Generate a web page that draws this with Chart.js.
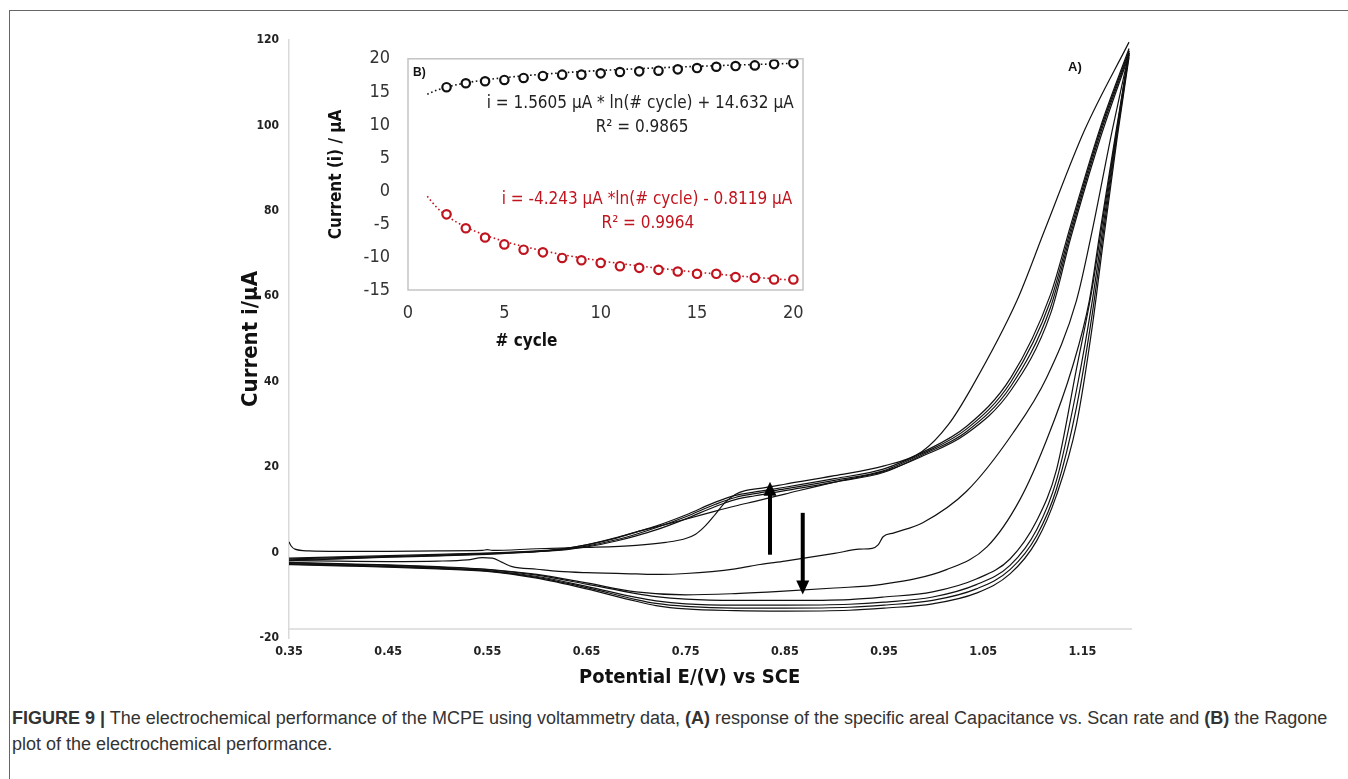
<!DOCTYPE html>
<html>
<head>
<meta charset="utf-8">
<script src="https://cdn.jsdelivr.net/npm/chart.js@4.4.1/dist/chart.umd.min.js"></script>
<style>
html, body { margin: 0; padding: 0; background: #fff; }
body { width: 1348px; height: 779px; position: relative; overflow: hidden; }
#frame { position: absolute; left: 9px; top: 10px; width: 1345px; height: 775px;
  border-top: 1.5px solid #666; border-left: 1.5px solid #666; }
#main { position: absolute; left: 0; top: 0; }
#inset { position: absolute; left: 300px; top: 30px; }
#caption { position: absolute; left: 12px; top: 705px; font: 18px 'Liberation Sans', Arial, sans-serif;
  color: #333; white-space: nowrap; line-height: 26px; }
</style>
</head>
<body>
<div id="frame"></div>
<canvas id="main" width="1348" height="700"></canvas>
<canvas id="inset" width="520" height="340"></canvas>
<div id="caption"><b>FIGURE 9 |</b> The electrochemical performance of the MCPE using voltammetry data, <b>(A)</b> response of the specific areal Capacitance vs. Scan rate and <b>(B)</b> the Ragone<br>plot of the electrochemical performance.</div>

<script>
// ---- (A) cyclic voltammograms: potential (V vs SCE) / current (uA) ----
var cycleA_E = [0.35, 0.352, 0.356, 0.37, 0.40, 0.45, 0.50, 0.545, 0.55, 0.555, 0.60, 0.65, 0.70, 0.73, 0.75, 0.76, 0.77, 0.78, 0.79, 0.80, 0.81, 0.83, 0.85, 0.90, 0.95, 0.988, 1.015, 1.038, 1.084, 1.112, 1.152, 1.197];
var cycleA_I = [2.5, 1.6, 0.8, 0.4, 0.3, 0.3, 0.4, 0.5, 0.7, 0.5, 0.9, 1.2, 1.7, 2.4, 3.3, 4.3, 6.3, 9.0, 11.8, 13.6, 14.5, 15.2, 16.0, 18.0, 20.3, 23.6, 30.0, 38.5, 59.0, 75.5, 98.8, 119.5];

var fwd_E = [0.35, 0.40, 0.45, 0.50, 0.55, 0.60, 0.63, 0.65, 0.68, 0.70, 0.72, 0.75, 0.78, 0.80, 0.82, 0.85, 0.90, 0.95, 0.988, 1.033, 1.078, 1.118, 1.138, 1.168, 1.197];
var fwd1_I = [-1.3, -1.0, -0.7, -0.4, -0.1, 0.4, 1.0, 1.8, 3.4, 4.8, 6.2, 8.8, 11.8, 13.4, 14.2, 15.3, 17.3, 19.6, 23.4, 29.5, 41.0, 60.5, 76.5, 99.5, 118.0];
var fwd2_I = [-1.5, -1.2, -0.9, -0.6, -0.2, 0.3, 0.8, 1.5, 3.0, 4.3, 5.8, 8.4, 11.3, 12.9, 13.8, 14.9, 16.9, 19.2, 23.1, 28.9, 40.0, 59.0, 75.5, 98.8, 117.5];
var fwd3_I = [-1.7, -1.4, -1.0, -0.7, -0.3, 0.2, 0.7, 1.3, 2.7, 3.9, 5.3, 7.9, 10.8, 12.4, 13.3, 14.5, 16.5, 18.8, 22.8, 28.3, 39.0, 57.5, 74.5, 98.0, 117.0];
var fwd4_I = [-1.9, -1.5, -1.1, -0.8, -0.4, 0.2, 1.0, 1.8, 3.5, 4.8, 6.0, 7.8, 9.7, 10.9, 12.0, 13.7, 16.5, 19.0, 22.5, 27.8, 38.0, 56.0, 73.5, 97.0, 116.5];

var cycleB_E = [0.35, 0.40, 0.45, 0.50, 0.53, 0.545, 0.555, 0.565, 0.575, 0.60, 0.622, 0.65, 0.70, 0.724, 0.75, 0.80, 0.825, 0.85, 0.90, 0.925, 0.938, 0.944, 0.949, 0.96, 0.989, 1.033, 1.080, 1.114, 1.144, 1.160, 1.180, 1.197];
var cycleB_I = [-1.9, -2.0, -2.1, -2.0, -1.7, -1.2, -1.3, -2.3, -3.3, -3.9, -4.4, -4.7, -5.0, -5.1, -4.9, -3.8, -2.8, -2.0, -0.2, 0.8, 1.0, 1.8, 3.7, 4.6, 7.0, 14.3, 28.0, 41.0, 59.0, 75.5, 98.8, 117.0];

var cycleC_E = [0.35, 0.40, 0.45, 0.50, 0.55, 0.60, 0.65, 0.70, 0.75, 0.80, 0.845, 0.90, 0.946, 1.013, 1.054, 1.087, 1.114, 1.14, 1.157, 1.168, 1.184, 1.197];
var cycleC_I = [-2.3, -2.6, -2.9, -3.3, -3.9, -5.1, -7.1, -9.2, -9.9, -9.6, -9.1, -8.3, -7.5, -4.0, 1.4, 12.4, 26.4, 43.5, 59.0, 75.5, 98.8, 117.0];

var rev_E = [0.35, 0.40, 0.45, 0.50, 0.55, 0.60, 0.65, 0.70, 0.72, 0.75, 0.80, 0.85, 0.915, 0.95, 0.999, 1.043, 1.077, 1.104, 1.124, 1.144, 1.160, 1.170, 1.185, 1.197];
var rev1_I = [-2.4, -2.7, -3.0, -3.4, -4.0, -5.3, -7.4, -9.6, -10.3, -10.9, -11.2, -11.2, -11.0, -10.4, -9.2, -6.2, -1.5, 7.5, 19.5, 43.0, 62.0, 77.0, 99.5, 117.5];
var rev2_I = [-2.6, -2.9, -3.2, -3.6, -4.2, -5.6, -7.9, -10.5, -11.3, -12.0, -12.3, -12.3, -12.1, -11.6, -10.4, -7.5, -3.0, 5.4, 17.0, 38.0, 59.0, 75.0, 98.8, 117.0];
var rev3_I = [-2.7, -3.0, -3.3, -3.7, -4.3, -5.8, -8.2, -11.0, -11.9, -12.6, -13.0, -13.0, -12.8, -12.3, -11.2, -8.5, -4.0, 4.0, 15.0, 34.0, 56.0, 73.0, 98.0, 116.5];
var rev4_I = [-2.8, -3.1, -3.4, -3.8, -4.4, -6.0, -8.5, -11.4, -12.4, -13.2, -13.6, -13.7, -13.5, -13.0, -12.0, -9.5, -5.0, 2.8, 13.5, 30.0, 53.0, 71.0, 97.0, 116.0];

var mainETicks = [0.35, 0.45, 0.55, 0.65, 0.75, 0.85, 0.95, 1.05, 1.15];
var mainITicks = [-20, 0, 20, 40, 60, 80, 100, 120];

// arrows (potential, start current, end current)
var arrowE = [0.835, 0.868];
var arrowFrom = [-0.5, 9.3];
var arrowTo = [16.6, -9.8];

// ---- (B) peak current vs cycle ----
var cycles = [2, 3, 4, 5, 6, 7, 8, 9, 10, 11, 12, 13, 14, 15, 16, 17, 18, 19, 20];
var anodicPeak = [15.7, 16.3, 16.6, 16.8, 17.1, 17.4, 17.6, 17.6, 17.8, 18.0, 18.1, 18.2, 18.4, 18.6, 18.8, 18.9, 19.0, 19.2, 19.35];
var cathodicPeak = [-3.55, -5.65, -7.05, -8.1, -8.9, -9.3, -10.15, -10.5, -10.9, -11.4, -11.65, -11.95, -12.2, -12.55, -12.55, -13.05, -13.15, -13.4, -13.4];
var trendCycle = [1, 1.5, 2, 3, 4, 5, 6, 8, 10, 12, 14, 16, 18, 20];
var trendAnodic = [14.63, 15.26, 15.71, 16.35, 16.80, 17.14, 17.43, 17.88, 18.23, 18.51, 18.75, 18.96, 19.14, 19.31];
var trendCathodic = [-0.81, -2.53, -3.75, -5.47, -6.69, -7.64, -8.41, -9.63, -10.58, -11.36, -12.01, -12.58, -13.08, -13.52];
var insetXTicks = [0, 5, 10, 15, 20];
var insetYTicks = [-15, -10, -5, 0, 5, 10, 15, 20];

var NARROW = "'Liberation Sans Narrow', 'Arial Narrow', 'DejaVu Sans Condensed', sans-serif";
var SANS = "'Liberation Sans', Arial, sans-serif";
var RED = '#c0141e';

function pts(xs, ys) {
    return xs.map(function(x, i) { return { x: x, y: ys[i] }; });
}

function cvLine(xs, ys) {
    return {
        data: pts(xs, ys),
        showLine: true,
        borderColor: '#111',
        borderWidth: 1.2,
        pointRadius: 0,
        cubicInterpolationMode: 'monotone'
    };
}

var mainExtras = {
    id: 'mainExtras',
    afterDraw: function(chart) {
        var ctx = chart.ctx;
        var xs = chart.scales.x, ys = chart.scales.y;
        ctx.save();
        // horizontal axis line (sits a little above the -20 label as in the figure)
        ctx.strokeStyle = '#d9d9d9';
        ctx.lineWidth = 1.5;
        var yAxis = ys.getPixelForValue(-17.9);
        ctx.beginPath();
        ctx.moveTo(chart.chartArea.left, yAxis);
        ctx.lineTo(chart.chartArea.right, yAxis);
        ctx.stroke();

        ctx.fillStyle = '#000';
        ctx.strokeStyle = '#000';
        for (var i = 0; i < arrowE.length; i++) {
            var x = xs.getPixelForValue(arrowE[i]);
            var y0 = ys.getPixelForValue(arrowFrom[i]);
            var y1 = ys.getPixelForValue(arrowTo[i]);
            var dir = y1 < y0 ? -1 : 1;
            var head = 14, half = 6.5;
            ctx.lineWidth = 4;
            ctx.beginPath();
            ctx.moveTo(x, y0);
            ctx.lineTo(x, y1 - dir * head + dir * 2);
            ctx.stroke();
            ctx.beginPath();
            ctx.moveTo(x, y1);
            ctx.lineTo(x - half, y1 - dir * head);
            ctx.lineTo(x + half, y1 - dir * head);
            ctx.closePath();
            ctx.fill();
        }

        // axis title, set a bit left of the axis centre as in the figure
        ctx.fillStyle = '#111';
        ctx.font = 'bold 20px ' + NARROW;
        ctx.textAlign = 'center';
        ctx.textBaseline = 'middle';
        ctx.fillText('Potential E/(V) vs SCE', xs.getPixelForValue(0.754), chart.chartArea.bottom + 40);

        ctx.font = 'bold 13px ' + SANS;
        ctx.textAlign = 'left';
        ctx.fillText('A)', 1068, 67);
        ctx.restore();
    }
};

new Chart(document.getElementById('main'), {
    type: 'scatter',
    data: {
        datasets: [
            cvLine(cycleA_E, cycleA_I),
            cvLine(fwd_E, fwd1_I),
            cvLine(fwd_E, fwd2_I),
            cvLine(fwd_E, fwd3_I),
            cvLine(fwd_E, fwd4_I),
            cvLine(cycleB_E, cycleB_I),
            cvLine(cycleC_E, cycleC_I),
            cvLine(rev_E, rev1_I),
            cvLine(rev_E, rev2_I),
            cvLine(rev_E, rev3_I),
            cvLine(rev_E, rev4_I)
        ]
    },
    options: {
        responsive: false,
        animation: false,
        layout: { padding: { left: 230, right: 216, top: 40, bottom: 0 } },
        plugins: { legend: { display: false }, tooltip: { enabled: false } },
        scales: {
            x: {
                type: 'linear', min: 0.35, max: 1.2,
                afterFit: function(s) { s.height = 62; },
                afterBuildTicks: function(s) { s.ticks = mainETicks.map(function(v) { return { value: v }; }); },
                ticks: {
                    autoSkip: false, maxRotation: 0, padding: 6, color: '#222',
                    font: { family: NARROW, size: 12.5, weight: 'bold' },
                    callback: function(v) { return v.toFixed(2); }
                },
                grid: { display: false, drawTicks: false },
                border: { display: false },
                title: { display: false }
            },
            y: {
                type: 'linear', min: -20, max: 120,
                afterFit: function(s) { s.width = 59; },
                afterBuildTicks: function(s) { s.ticks = mainITicks.map(function(v) { return { value: v }; }); },
                ticks: {
                    padding: 10, color: '#222',
                    font: { family: NARROW, size: 12, weight: 'bold' }
                },
                grid: { display: false, drawTicks: false },
                border: { color: '#d9d9d9', width: 1.5 },
                title: {
                    display: true, text: 'Current i/μA', color: '#111',
                    font: { family: NARROW, size: 22, weight: 'bold' },
                    padding: { top: 8, bottom: 0 }
                }
            }
        }
    },
    plugins: [mainExtras]
});

var insetExtras = {
    id: 'insetExtras',
    afterDraw: function(chart) {
        var ctx = chart.ctx, a = chart.chartArea;
        var xs = chart.scales.x, ys = chart.scales.y;
        ctx.save();
        ctx.strokeStyle = '#c4c4c4';
        ctx.lineWidth = 1.5;
        ctx.strokeRect(a.left, a.top, a.right - a.left, a.bottom - a.top);

        ctx.textAlign = 'center';
        ctx.textBaseline = 'middle';
        ctx.font = '17px ' + NARROW;
        ctx.fillStyle = '#222';
        ctx.fillText('i = 1.5605 μA * ln(# cycle) + 14.632 μA', xs.getPixelForValue(12.05), ys.getPixelForValue(13.25));
        ctx.fillText('R² = 0.9865', xs.getPixelForValue(12.15), ys.getPixelForValue(9.6));
        ctx.fillStyle = RED;
        ctx.fillText('i = -4.243 μA *ln(# cycle) - 0.8119 μA', xs.getPixelForValue(12.4), ys.getPixelForValue(-1.3));
        ctx.fillText('R² = 0.9964', xs.getPixelForValue(12.45), ys.getPixelForValue(-4.95));

        // x axis title sits left of centre in the figure
        ctx.fillStyle = '#111';
        ctx.font = 'bold 17px ' + NARROW;
        ctx.fillText('# cycle', xs.getPixelForValue(6.15), a.bottom + 52);

        ctx.font = 'bold 12px ' + SANS;
        ctx.textAlign = 'left';
        ctx.fillText('B)', a.left + 5, a.top + 14);
        ctx.restore();
    }
};

new Chart(document.getElementById('inset'), {
    type: 'scatter',
    data: {
        datasets: [
            { data: pts(cycles, anodicPeak), pointRadius: 4.2, pointBorderWidth: 2.2,
              borderColor: '#111', backgroundColor: '#fff', showLine: false },
            { data: pts(cycles, cathodicPeak), pointRadius: 4.2, pointBorderWidth: 2.2,
              borderColor: RED, backgroundColor: '#fff', showLine: false },
            { data: pts(trendCycle, trendAnodic), showLine: true, pointRadius: 0, borderColor: '#111',
              borderWidth: 1.6, borderDash: [1.6, 2.6], cubicInterpolationMode: 'monotone' },
            { data: pts(trendCycle, trendCathodic), showLine: true, pointRadius: 0, borderColor: RED,
              borderWidth: 1.6, borderDash: [1.6, 2.6], cubicInterpolationMode: 'monotone' }
        ]
    },
    options: {
        responsive: false,
        animation: false,
        layout: { padding: { left: 14, right: 17, top: 26, bottom: 0 } },
        plugins: { legend: { display: false }, tooltip: { enabled: false } },
        scales: {
            x: {
                type: 'linear', min: 0, max: 20.5,
                afterFit: function(s) { s.height = 80; },
                afterBuildTicks: function(s) { s.ticks = insetXTicks.map(function(v) { return { value: v }; }); },
                ticks: { autoSkip: false, maxRotation: 0, padding: 13, color: '#333',
                         font: { family: NARROW, size: 18 } },
                grid: { display: false, drawTicks: false },
                border: { display: false },
                title: { display: false }
            },
            y: {
                type: 'linear', min: -15, max: 20,
                afterFit: function(s) { s.width = 94; },
                afterBuildTicks: function(s) { s.ticks = insetYTicks.map(function(v) { return { value: v }; }); },
                ticks: { padding: 18, color: '#333', font: { family: NARROW, size: 18 } },
                grid: { display: false, drawTicks: false },
                border: { display: false },
                title: { display: true, text: 'Current (i) / μA', color: '#111',
                         font: { family: NARROW, size: 17, weight: 'bold' }, padding: { top: 12, bottom: 0 } }
            }
        }
    },
    plugins: [insetExtras]
});
</script>
</body>
</html>
